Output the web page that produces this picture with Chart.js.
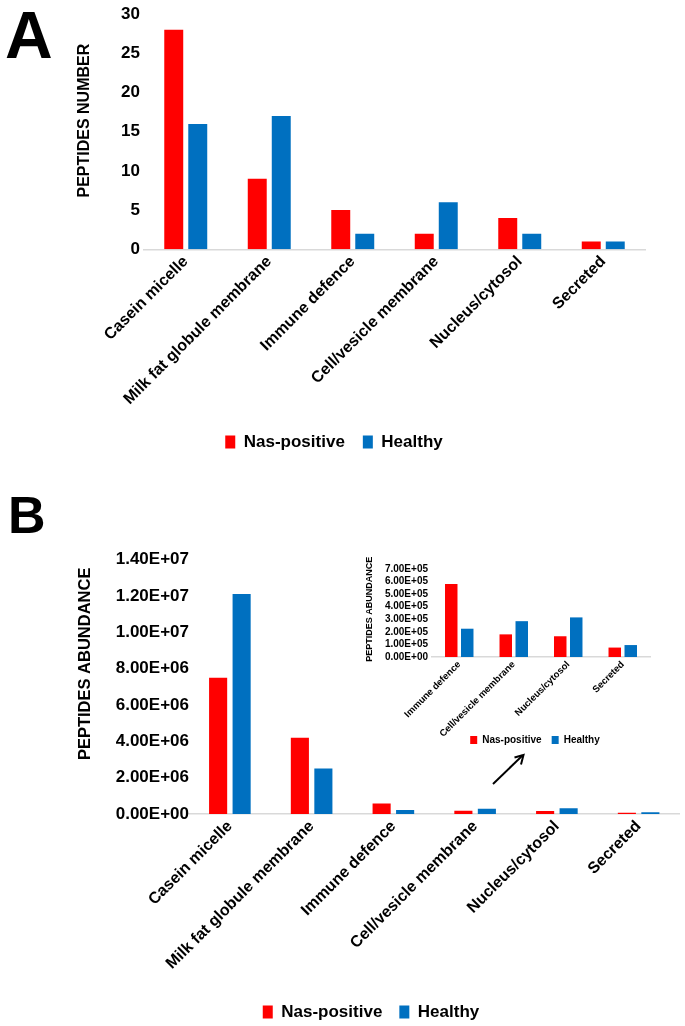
<!DOCTYPE html>
<html>
<head>
<meta charset="utf-8">
<script src="https://cdn.jsdelivr.net/npm/chart.js@4.4.1/dist/chart.umd.min.js"></script>
<style>
  html, body { margin: 0; padding: 0; background: #fff; }
  body { width: 685px; height: 1026px; position: relative; overflow: hidden; }
  canvas, svg, .letter { position: absolute; }
  .letter { font-family: 'Liberation Sans', Arial, sans-serif; font-weight: bold; line-height: 1; color: #000; }
</style>
</head>
<body>
<canvas id="chartA" width="685" height="470" style="left:0;top:0"></canvas>
<canvas id="chartB" width="685" height="565" style="left:0;top:470px"></canvas>
<canvas id="chartInset" width="360" height="215" style="left:355px;top:540px"></canvas>
<svg width="685" height="1026" style="left:0;top:0">
  <line x1="493" y1="784" x2="522.5" y2="755.5" stroke="#000" stroke-width="2"/>
  <polyline points="514.5,757.5 523.5,755 521,764.5" fill="none" stroke="#000" stroke-width="2"/>
</svg>
<div class="letter" style="left:5px;top:2px;font-size:66px">A</div>
<div class="letter" style="left:8px;top:489px;font-size:52px">B</div>

<script>
// categories and series
const categories = ["Casein micelle", "Milk fat globule membrane", "Immune defence",
                    "Cell/vesicle membrane", "Nucleus/cytosol", "Secreted"];
const seriesNames = ["Nas-positive", "Healthy"];

// A - number of peptides
const numberNas = [28, 9, 5, 2, 4, 1];
const numberHealthy = [16, 17, 2, 6, 2, 1];
const numberMax = 30, numberStep = 5;

// B - peptide abundance
const abundanceNas = [7.5e6, 4.2e6, 5.8e5, 1.8e5, 1.65e5, 0.75e5];
const abundanceHealthy = [1.21e7, 2.5e6, 2.25e5, 2.85e5, 3.15e5, 0.95e5];
const abundanceMax = 1.4e7, abundanceStep = 2e6;

// inset - the four small groups
const insetCategories = ["Immune defence", "Cell/vesicle membrane", "Nucleus/cytosol", "Secreted"];
const insetNas = [5.8e5, 1.8e5, 1.65e5, 0.75e5];
const insetHealthy = [2.25e5, 2.85e5, 3.15e5, 0.95e5];
const insetMax = 7e5, insetStep = 1e5;

const RED = "#ff0000";
const BLUE = "#0070c0";
const AXIS = "#d9d9d9";

Chart.defaults.font.family = "'Liberation Sans', Arial, sans-serif";
Chart.defaults.color = "#000";

function sci(v) {
  if (v === 0) return "0.00E+00";
  const e = Math.floor(Math.log10(v) + 1e-9);
  const m = v / Math.pow(10, e);
  return m.toFixed(2) + "E+" + String(e).padStart(2, "0");
}

// lets the rotated inset labels run past the bottom of their axis box
const noLabelClip = {
  id: "noLabelClip",
  afterLayout(chart) { chart.scales.x._computeLabelArea = () => undefined; },
};

function bars(id, o) {
  const scales = {
    x: {
      grid: { display: false, drawTicks: false },
      border: { color: AXIS, width: 1.5 },
      ticks: {
        minRotation: 45, maxRotation: 45, autoSkip: false, padding: o.xTickPad,
        font: { size: o.xSize, weight: "bold" }, color: "#000",
      },
      afterFit: (s) => { s.height = o.xH; },
    },
    y: {
      min: 0, max: o.max,
      grid: { display: false, drawTicks: false },
      border: { display: false },
      ticks: {
        stepSize: o.step, padding: o.yTickPad, autoSkip: false,
        font: { size: o.ySize, weight: "bold" }, color: "#000",
        callback: o.fmt,
      },
      title: {
        display: true, text: o.title, color: "#000",
        font: { size: o.titleSize, weight: "bold", lineHeight: 1.2 },
        padding: { top: o.titlePad, bottom: 0 },
      },
      afterFit: (s) => { s.width = o.yW; },
    },
  };
  if (o.rightW) {
    // empty spacer on the right so the legend centres where the original does
    scales.y2 = {
      position: "right",
      grid: { display: false, drawTicks: false },
      border: { display: false },
      ticks: { display: false },
      afterFit: (s) => { s.width = o.rightW; },
    };
  }
  return new Chart(document.getElementById(id), {
    type: "bar",
    data: {
      labels: o.labels,
      datasets: [
        { label: seriesNames[0], data: o.red, backgroundColor: RED,
          categoryPercentage: o.cat, barPercentage: o.bar },
        { label: seriesNames[1], data: o.blue, backgroundColor: BLUE,
          categoryPercentage: o.cat, barPercentage: o.bar },
      ],
    },
    plugins: o.plugins || [],
    options: {
      responsive: false,
      animation: false,
      devicePixelRatio: 1,
      layout: { padding: o.pad },
      plugins: {
        tooltip: { enabled: false },
        legend: {
          position: "bottom",
          labels: {
            boxWidth: o.box[0], boxHeight: o.box[1], padding: o.legendPad,
            font: { size: o.legendSize, weight: "bold" }, color: "#000",
          },
        },
      },
      scales: scales,
    },
  });
}

bars("chartA", {
  labels: categories, red: numberNas, blue: numberHealthy,
  cat: 0.575, bar: 0.79,
  pad: { left: 23, right: 40, top: 12.5, bottom: 9.5 },
  box: [10, 13], legendPad: 18, legendSize: 17,
  xSize: 16, xTickPad: 3, xH: 166.2,
  max: numberMax, step: numberStep, ySize: 17, yTickPad: 4,
  fmt: (v) => v,
  title: "     PEPTIDES NUMBER", titleSize: 16, titlePad: 52.4, yW: 121,
});

bars("chartB", {
  labels: categories, red: abundanceNas, blue: abundanceHealthy,
  cat: 0.575, bar: 0.77,
  pad: { left: 62.5, right: 5.5, top: 89.5, bottom: 4.5 },
  box: [10, 13], legendPad: 17, legendSize: 17,
  xSize: 16, xTickPad: 3, xH: 172.5,
  max: abundanceMax, step: abundanceStep, ySize: 17, yTickPad: 0,
  fmt: (v) => sci(v),
  title: "          PEPTIDES ABUNDANCE", titleSize: 16.5, titlePad: 12.6, yW: 126.5,
});

bars("chartInset", {
  labels: insetCategories, red: insetNas, blue: insetHealthy,
  cat: 0.587, bar: 0.78,
  pad: { left: 7, right: 7, top: 29, bottom: 0 },
  box: [7, 8], legendPad: 10, legendSize: 10,
  xSize: 9.5, xTickPad: 2, xH: 68,
  max: insetMax, step: insetStep, ySize: 10, yTickPad: 4,
  fmt: (v) => sci(v),
  title: "   PEPTIDES ABUNDANCE", titleSize: 9, titlePad: 2.6, yW: 70,
  rightW: 58,
  plugins: [noLabelClip],
});
</script>
</body>
</html>
